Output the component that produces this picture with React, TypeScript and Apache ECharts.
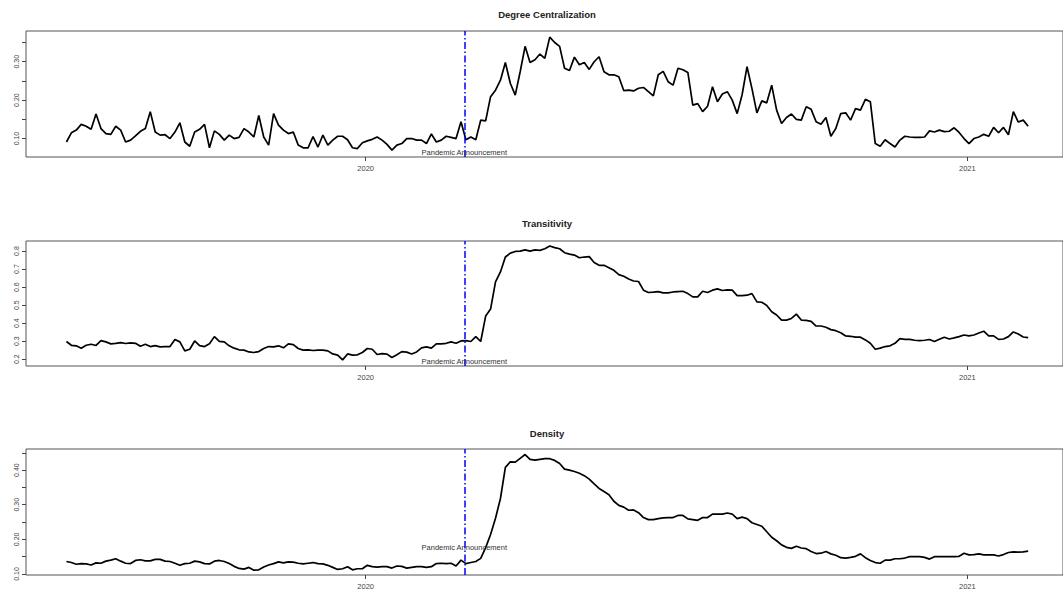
import React, { useEffect, useRef } from "react";
import * as echarts from "echarts";

// x values: days since 2020-01-01, one reading every 3 days starting 2019-07-03
const START_DAY = -182;
const STEP_DAYS = 3;
const PANDEMIC_DAY = 60;
const YEAR_TICKS = [0, 366];
const YEAR_LABELS = ["2020", "2021"];

const degreeCentralization = [
  0.091, 0.115, 0.122, 0.137, 0.132, 0.124, 0.164, 0.126, 0.113, 0.111,
  0.132, 0.122, 0.091, 0.096, 0.107, 0.119, 0.126, 0.170, 0.117, 0.109,
  0.110, 0.100, 0.117, 0.141, 0.091, 0.080, 0.117, 0.124, 0.137, 0.076,
  0.120, 0.111, 0.096, 0.109, 0.100, 0.103, 0.126, 0.117, 0.104, 0.160,
  0.104, 0.083, 0.165, 0.135, 0.122, 0.113, 0.117, 0.083, 0.076, 0.076,
  0.105, 0.078, 0.109, 0.083, 0.096, 0.106, 0.106, 0.097, 0.076, 0.074,
  0.089, 0.094, 0.098, 0.104, 0.096, 0.085, 0.070, 0.083, 0.087, 0.100,
  0.100, 0.096, 0.096, 0.087, 0.112, 0.091, 0.096, 0.106, 0.103, 0.100,
  0.144, 0.097, 0.104, 0.097, 0.148, 0.146, 0.209, 0.226, 0.252, 0.298,
  0.244, 0.213, 0.274, 0.340, 0.298, 0.305, 0.320, 0.309, 0.364, 0.350,
  0.340, 0.283, 0.277, 0.312, 0.292, 0.298, 0.280, 0.300, 0.313, 0.274,
  0.266, 0.266, 0.261, 0.225, 0.226, 0.224, 0.231, 0.233, 0.222,
  0.211, 0.266, 0.275, 0.248, 0.239, 0.283, 0.279, 0.272, 0.187, 0.191,
  0.170, 0.184, 0.235, 0.196, 0.216, 0.222, 0.200, 0.165, 0.214, 0.287,
  0.230, 0.167, 0.198, 0.193, 0.239, 0.174, 0.139, 0.155, 0.164, 0.150,
  0.148, 0.183, 0.176, 0.144, 0.137, 0.155, 0.106, 0.126, 0.165, 0.167,
  0.148, 0.178, 0.174, 0.202, 0.196, 0.087, 0.080, 0.097, 0.087, 0.078,
  0.096, 0.106, 0.104, 0.103, 0.103, 0.104, 0.120, 0.117,
  0.122, 0.118, 0.119, 0.128, 0.116, 0.100, 0.087, 0.100, 0.104, 0.111,
  0.106, 0.129, 0.115, 0.129, 0.110, 0.170, 0.143, 0.148, 0.132,
];

const transitivity = [
  0.298, 0.277, 0.274, 0.261, 0.277, 0.283, 0.276, 0.303, 0.296, 0.285,
  0.288, 0.292, 0.287, 0.290, 0.288, 0.272, 0.283, 0.270, 0.275, 0.268,
  0.270, 0.270, 0.309, 0.296, 0.246, 0.255, 0.301, 0.275, 0.270, 0.285,
  0.325, 0.299, 0.296, 0.274, 0.261, 0.252, 0.250, 0.240, 0.237, 0.242,
  0.259, 0.270, 0.268, 0.274, 0.263, 0.285, 0.281, 0.259, 0.250, 0.252,
  0.248, 0.250, 0.250, 0.246, 0.229, 0.222, 0.196, 0.229, 0.222, 0.224,
  0.237, 0.259, 0.255, 0.226, 0.231, 0.228, 0.209, 0.224, 0.242, 0.239,
  0.229, 0.240, 0.263, 0.268, 0.261, 0.285, 0.285, 0.288, 0.296, 0.288,
  0.301, 0.303, 0.298, 0.325, 0.298, 0.439, 0.478, 0.629, 0.684, 0.767,
  0.789, 0.798, 0.800, 0.807, 0.800, 0.807,
  0.804, 0.813, 0.828, 0.819, 0.813, 0.791, 0.783, 0.778, 0.763, 0.767,
  0.769, 0.737, 0.721, 0.721, 0.708, 0.693, 0.669, 0.660, 0.645, 0.634,
  0.631, 0.583, 0.570, 0.572, 0.575, 0.568, 0.568, 0.573, 0.575, 0.577,
  0.564, 0.546, 0.546, 0.577, 0.570, 0.583, 0.590, 0.581, 0.585, 0.583,
  0.553, 0.553, 0.555, 0.564, 0.518, 0.516, 0.498, 0.463, 0.445, 0.417,
  0.417, 0.426, 0.450, 0.417, 0.415, 0.410, 0.384, 0.384, 0.377, 0.364,
  0.358, 0.347, 0.329, 0.327, 0.322, 0.322, 0.307, 0.288, 0.255, 0.261,
  0.270, 0.274, 0.288, 0.314, 0.310, 0.310, 0.305, 0.303, 0.305, 0.309,
  0.298, 0.310, 0.322, 0.312, 0.318, 0.325, 0.334, 0.329, 0.334, 0.345,
  0.355, 0.329, 0.329, 0.310, 0.312, 0.325, 0.351, 0.340, 0.323, 0.320,
];

const density = [
  0.136, 0.133, 0.128, 0.130, 0.129, 0.126, 0.132, 0.131, 0.137, 0.140,
  0.144, 0.137, 0.131, 0.130, 0.139, 0.141, 0.138, 0.138, 0.142, 0.142,
  0.137, 0.136, 0.131, 0.125, 0.130, 0.131, 0.137, 0.135, 0.130, 0.129,
  0.137, 0.139, 0.136, 0.130, 0.122, 0.116, 0.114, 0.119, 0.111, 0.112,
  0.120, 0.126, 0.130, 0.135, 0.132, 0.135, 0.134, 0.131, 0.129, 0.131,
  0.133, 0.130, 0.129, 0.125, 0.119, 0.113, 0.115, 0.121, 0.112, 0.115,
  0.115, 0.125, 0.121, 0.120, 0.121, 0.121, 0.117, 0.123, 0.122, 0.117,
  0.119, 0.121, 0.121, 0.119, 0.121, 0.130, 0.131, 0.130, 0.131, 0.123,
  0.140, 0.130, 0.133, 0.136, 0.145, 0.176, 0.214, 0.261, 0.318, 0.408,
  0.424, 0.423, 0.434, 0.445, 0.431, 0.429,
  0.431, 0.433, 0.433, 0.428, 0.419, 0.403, 0.400, 0.396, 0.391, 0.384,
  0.374, 0.360, 0.347, 0.338, 0.329, 0.310, 0.298, 0.293, 0.284, 0.285,
  0.277, 0.263, 0.257, 0.257, 0.260, 0.262, 0.263, 0.263, 0.269, 0.269,
  0.259, 0.257, 0.255, 0.263, 0.263, 0.273, 0.273, 0.273, 0.276, 0.273,
  0.260, 0.264, 0.260, 0.248, 0.243, 0.238, 0.222, 0.206, 0.196, 0.184,
  0.177, 0.174, 0.180, 0.175, 0.173, 0.165, 0.159, 0.160, 0.165, 0.158,
  0.154, 0.147, 0.146, 0.148, 0.151, 0.158, 0.147, 0.139, 0.133, 0.131,
  0.140, 0.140, 0.144, 0.144, 0.146, 0.150, 0.150, 0.150, 0.148, 0.143,
  0.150, 0.150, 0.150, 0.150, 0.150, 0.151, 0.160, 0.155, 0.156, 0.158,
  0.155, 0.155, 0.155, 0.152, 0.156, 0.162, 0.164, 0.163, 0.164, 0.166,
];

const titles = ["Degree Centralization", "Transitivity", "Density"];
const yTicks = [
  [0.1, 0.15, 0.2, 0.25, 0.3, 0.35],
  [0.2, 0.3, 0.4, 0.5, 0.6, 0.7, 0.8],
  [0.1, 0.15, 0.2, 0.25, 0.3, 0.35, 0.4, 0.45],
];
const yLabels = [
  [0.1, 0.2, 0.3],
  [0.2, 0.3, 0.4, 0.5, 0.6, 0.7, 0.8],
  [0.1, 0.2, 0.3, 0.4],
];
const yDecimals = [2, 1, 2];
const yRanges = [
  [0.052, 0.38],
  [0.162, 0.856],
  [0.097, 0.461],
];
const announceY = [0.065, 0.187, 0.177];

const FONT = "'Liberation Sans', Arial, sans-serif";
const GRID_TOPS = [31, 241, 449];
const GRID_HEIGHTS = [126, 125, 126];
const TITLE_YS = [14, 223, 433];
const X_MIN = -206.6;
const X_MAX = 424.2;

export default function App() {
  const ref = useRef<HTMLDivElement>(null);

  useEffect(() => {
    if (!ref.current) return;
    const chart = echarts.init(ref.current, undefined, { renderer: "svg" });
    const allSeries = [degreeCentralization, transitivity, density];

    const grids = GRID_TOPS.map((top, i) => ({
      left: 26,
      right: -4,
      top,
      height: GRID_HEIGHTS[i],
      show: true,
      borderColor: "#555",
      borderWidth: 1,
      backgroundColor: "transparent",
    }));

    const xAxes = GRID_TOPS.map((_, i) => ({
      type: "value",
      gridIndex: i,
      min: X_MIN,
      max: X_MAX,
      axisLine: { show: false, onZero: false },
      splitLine: { show: false },
      axisTick: {
        show: true,
        customValues: YEAR_TICKS,
        length: 4,
        lineStyle: { color: "#444", width: 1 },
      },
      axisLabel: {
        customValues: YEAR_TICKS,
        formatter: (v: number) => YEAR_LABELS[YEAR_TICKS.indexOf(v)] ?? "",
        fontSize: 7.5,
        color: "#444",
        margin: 7,
        fontFamily: FONT,
      },
    }));

    const yAxes = GRID_TOPS.map((_, i) => ({
      type: "value",
      gridIndex: i,
      position: "left",
      min: yRanges[i][0],
      max: yRanges[i][1],
      axisLine: { show: false, onZero: false },
      splitLine: { show: false },
      axisTick: {
        show: true,
        customValues: yTicks[i],
        length: 4,
        lineStyle: { color: "#444", width: 1 },
      },
      axisLabel: {
        customValues: yLabels[i],
        rotate: 90,
        formatter: (v: number) => v.toFixed(yDecimals[i]),
        fontSize: 7,
        color: "#444",
        margin: 6,
        fontFamily: FONT,
      },
    }));

    const series = allSeries.map((vals, i) => ({
      type: "line",
      xAxisIndex: i,
      yAxisIndex: i,
      data: vals.map((v, k) => [START_DAY + STEP_DAYS * k, v]),
      showSymbol: false,
      symbol: "none",
      lineStyle: { color: "#000", width: 1.7 },
      silent: true,
      markLine: {
        silent: true,
        symbol: "none",
        label: { show: false },
        lineStyle: { color: "#0000ff", width: 1.5, type: [7, 2.5, 1.5, 2.5] },
        data: [{ xAxis: PANDEMIC_DAY }],
      },
      markPoint: {
        silent: true,
        symbol: "circle",
        symbolSize: 1,
        itemStyle: { color: "transparent" },
        label: {
          show: true,
          position: "inside",
          formatter: "Pandemic Announcement",
          fontSize: 7.5,
          color: "#333",
          fontFamily: FONT,
        },
        data: [{ coord: [PANDEMIC_DAY, announceY[i]] }],
      },
    }));

    const graphic = titles.map((t, i) => ({
      type: "text",
      x: 547,
      y: TITLE_YS[i],
      style: {
        text: t,
        font: `bold 9.5px ${FONT}`,
        fill: "#222",
        align: "center",
        verticalAlign: "middle",
        textAlign: "center",
        textVerticalAlign: "middle",
      },
    }));

    chart.setOption({
      animation: false,
      backgroundColor: "#fff",
      grid: grids,
      xAxis: xAxes,
      yAxis: yAxes,
      series,
      graphic,
    } as any);

    return () => chart.dispose();
  }, []);

  return (
    <div
      ref={ref}
      style={{ position: "fixed", left: 0, top: 0, width: 1063, height: 595 }}
    />
  );
}
